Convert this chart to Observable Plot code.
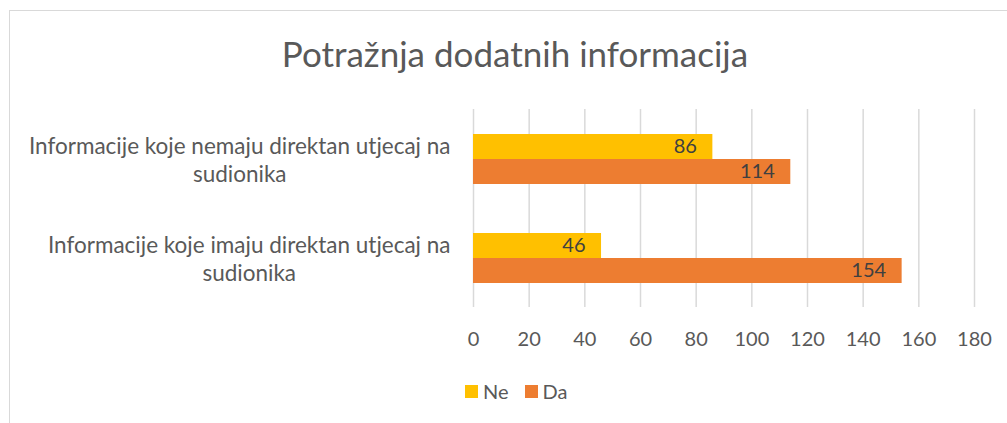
<!DOCTYPE html>
<html><head><meta charset="utf-8">
<script src="https://cdn.jsdelivr.net/npm/d3@7"></script>
<script src="https://cdn.jsdelivr.net/npm/@observablehq/plot@0.6"></script>
<style>
body{margin:0;background:#fff;font-family:Lato,"Open Sans",sans-serif;}
#wrap{position:relative;width:1007px;height:423px;overflow:hidden;background:#fff;}
#frame{position:absolute;left:9px;top:10px;width:1200px;height:600px;border:1px solid #d9d9d9;box-sizing:border-box;}
#title{position:absolute;left:0;width:1030px;top:33px;text-align:center;font-size:35px;line-height:40px;color:#595959;white-space:nowrap;}
#chart{position:absolute;left:0;top:0;}
#legend{position:absolute;left:465px;top:380px;font-size:20px;line-height:22px;color:#595959;display:flex;align-items:center;}
#legend .sw{display:inline-block;width:13px;height:13px;margin-right:5px;}
#legend .it{display:flex;align-items:center;margin-right:16px;}
</style></head>
<body>
<div id="wrap">
  <div id="frame"></div>
  <div id="chart"></div>
  <div id="title">Potražnja dodatnih informacija</div>
  <div id="legend"></div>
</div>
<script>
const categories = ["Informacije koje nemaju direktan utjecaj na sudionika", "Informacije koje imaju direktan utjecaj na sudionika"];
const series = ["Ne", "Da"];
const neValues = [86, 46];
const daValues = [114, 154];
const xTicks = [0, 20, 40, 60, 80, 100, 120, 140, 160, 180];
const colors = ["#FFC000", "#ED7D31"];

const data = [];
categories.forEach((c, i) => {
  data.push({category: c, series: "Ne", value: neValues[i]});
  data.push({category: c, series: "Da", value: daValues[i]});
});

const labelFont = 22.5;
const wrap = d => d.replace(" sudionika", "\nsudionika");
const ctx = document.createElement("canvas").getContext("2d");
ctx.font = `${labelFont}px Lato`;
const labelMarks = categories.map(c => {
  const w = Math.max(...wrap(c).split("\n").map(s => ctx.measureText(s).width));
  return Plot.text([c], {fy: d => d, text: wrap, frameAnchor: "left", textAnchor: "middle",
    dx: -23 - w / 2, fontSize: labelFont, lineHeight: 1.27, fill: "#595959"});
});

const chart = Plot.plot({
  width: 1007,
  height: 423,
  marginLeft: 473,
  marginRight: 33,
  marginTop: 109,
  marginBottom: 116,
  style: {fontFamily: "Lato, 'Open Sans', sans-serif", background: "transparent", overflow: "visible"},
  x: {domain: [0, 180], ticks: xTicks},
  y: {domain: series, paddingInner: 0, paddingOuter: 0.904, axis: null},
  fy: {domain: categories, padding: 0, axis: null},
  color: {domain: series, range: colors},
  marks: [
    Plot.gridX(xTicks, {stroke: "#d9d9d9", strokeOpacity: 1, strokeWidth: 1.5}),
    Plot.barX(data, {fy: "category", y: "series", x: "value", fill: "series"}),
    Plot.text(data, {fy: "category", y: "series", x: "value", text: "value", textAnchor: "end", dx: -16, fill: "#404040", fontSize: 20}),
    Plot.axisX({ticks: xTicks, tickSize: 0, tickPadding: 24, fontSize: 20, fill: "#595959", label: null}),
    ...labelMarks
  ]
});
document.getElementById("chart").appendChild(chart);

const legend = document.getElementById("legend");
series.forEach((s, i) => {
  const it = document.createElement("span");
  it.className = "it";
  const sw = document.createElement("span");
  sw.className = "sw";
  sw.style.background = colors[i];
  it.appendChild(sw);
  it.appendChild(document.createTextNode(s));
  legend.appendChild(it);
});
</script>
</body></html>
